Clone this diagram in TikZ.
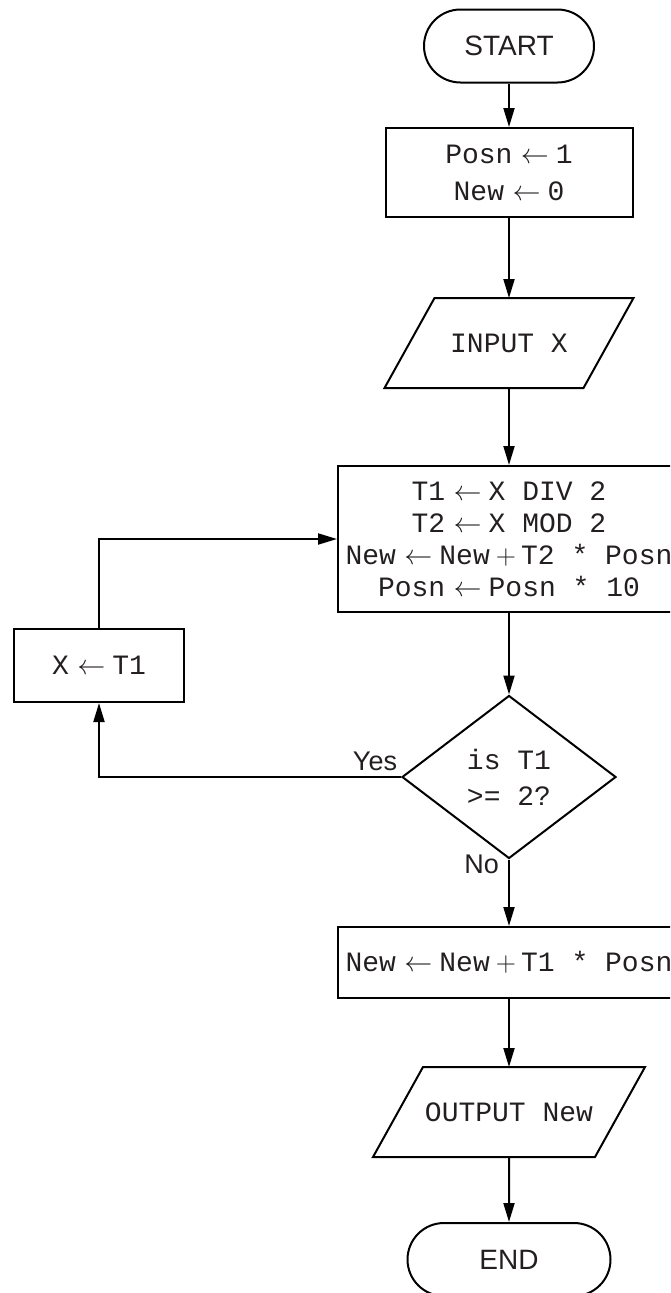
\documentclass[tikz,border=0pt]{standalone}
\usepackage{fix-cm}
\usepackage{fontspec}
\setmainfont{Liberation Sans}
\newfontfamily\codefont{Liberation Mono}
\usetikzlibrary{shapes.geometric,shapes.misc,arrows.meta}
\definecolor{textc}{RGB}{35,31,32}
\newcommand{\lar}{\hspace{0.3em}$\leftarrow$\hspace{0.25em}}
\newcommand{\plusop}{\hspace{0.22em}$+$\hspace{0.18em}}
\begin{document}
\begin{tikzpicture}[x=1pt,y=-1pt,line width=2pt,
  code/.style={font=\codefont\fontsize{28}{32}\selectfont, text=textc, align=center},
  procbox/.style={draw, rectangle, inner sep=0pt, code},
  term/.style={draw, rounded rectangle, inner sep=0pt, minimum height=73pt,
    font=\fontsize{28}{32}\selectfont, text=textc},
  iobox/.style={rectangle, inner sep=0pt, code, minimum height=88pt},
  decbox/.style={draw, diamond, inner sep=0pt, aspect=1.31, code,
    font=\codefont\fontsize{28}{36}\selectfont},
  lbl/.style={inner sep=0pt, font=\fontsize{27}{30}\selectfont, text=textc},
  arr/.style={-{Triangle[length=19pt,width=11pt]}, line width=2pt}]
\useasboundingbox (0,0) rectangle (670,1293);
\clip (0,0) rectangle (670,1293);
% nodes
\node[term, minimum width=170pt] (start) at (509,46) {START};
\node[procbox, minimum width=247pt, minimum height=89pt,
  font=\codefont\fontsize{28}{37}\selectfont] (init) at (509,172.5)
  {Posn\lar 1\\New\lar 0};
\node[iobox, minimum width=247pt] (input) at (509,343) {INPUT X};
\draw ([xshift=50pt]input.north west) -- (input.north east)
  -- ([xshift=-50pt]input.south east) -- (input.south west) -- cycle;
\node[procbox, minimum width=342pt, minimum height=146pt] (proc) at (509,539)
  {T1\lar X DIV 2\\T2\lar X MOD 2\\New\lar New\plusop T2 * Posn\\Posn\lar Posn * 10};
\node[decbox, minimum width=214pt, minimum height=163pt] (dec) at (509,777)
  {is T1\\>= 2?};
\node[procbox, minimum width=170pt, minimum height=73pt] (upd) at (99,665.5)
  {X\lar T1};
\node[procbox, minimum width=342pt, minimum height=71pt] (fin) at (509,962.5)
  {New\lar New\plusop T1 * Posn};
\node[iobox, minimum width=270pt] (output) at (509,1112) {OUTPUT New};
\draw ([xshift=50pt]output.north west) -- (output.north east)
  -- ([xshift=-50pt]output.south east) -- (output.south west) -- cycle;
\node[term, minimum width=203pt] (end) at (509,1259.5) {END};
\node[lbl, anchor=base east] (yes) at (398,770) {Yes};
\node[lbl, anchor=base east] (no) at (500,873) {No};
% connectors
\draw[arr] (start) -- (init);
\draw[arr] (init) -- (input.north);
\draw[arr] (input.south) -- (proc);
\draw[arr] (proc) -- (dec);
\draw[arr] (dec.west) -| (upd.south);
\draw[arr] (upd.north) |- (proc.west);
\draw[arr] (dec.south) -- (fin.north);
\draw[arr] (fin) -- (output.north);
\draw[arr] (output.south) -- (end);
\end{tikzpicture}
\end{document}
